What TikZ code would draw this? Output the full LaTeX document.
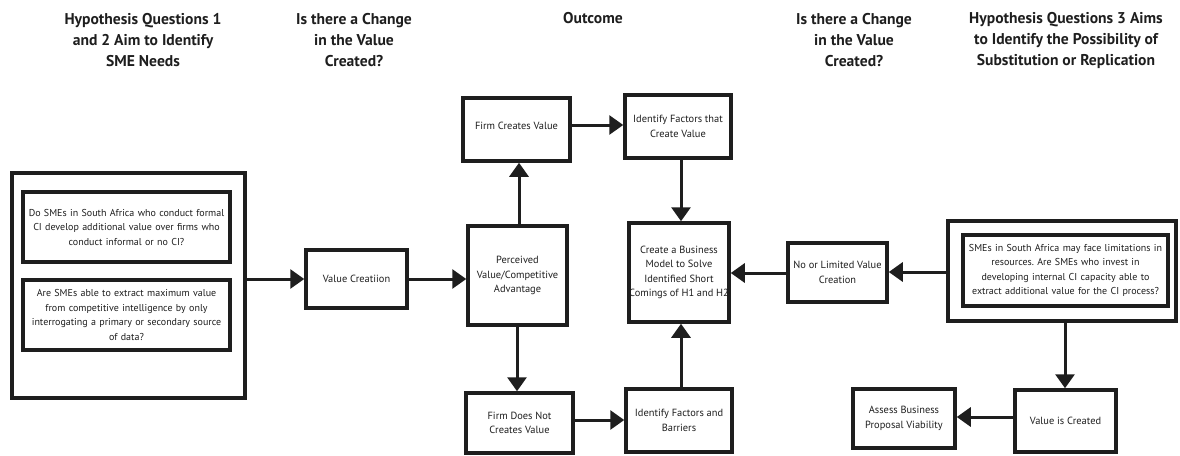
\documentclass[tikz,border=0pt]{standalone}
\usepackage{fontspec}
\setmainfont{PT Sans}
\frenchspacing
\usetikzlibrary{arrows.meta}
\definecolor{ink}{HTML}{1E1E1E}
\tikzset{
  box/.style={draw=ink, line width=3.5pt, fill=white, align=center, inner sep=1pt,
    font=\fontsize{10.4}{14.5}\selectfont, text=ink},
  qbox/.style={box, font=\fontsize{10}{14.5}\selectfont, text width=196pt,
    minimum width=207pt},
  outerbox/.style={draw=ink, line width=4pt, fill=white},
  head/.style={align=center, font=\fontsize{15.6}{21}\selectfont\bfseries, text=ink},
  flow/.style={draw=ink, line width=3pt, -{Triangle[length=14pt,width=19pt]}},
}
\begin{document}
\begin{tikzpicture}[x=1pt,y=-1pt]
\useasboundingbox (0,0) rectangle (1180,455);

% column headings
\node[head] (h1) at (143,40) {Hypothesis Questions 1\\and 2 Aim to Identify\\SME Needs};
\node[head] (h2) at (354,40) {Is there a Change\\in the Value\\Created?};
\node[head] (h3) at (593,18) {Outcome};
\node[head] (h4) at (854,40) {Is there a Change\\in the Value\\Created?};
\node[head] (h5) at (1066,40) {Hypothesis Questions 3 Aims\\to Identify the Possibility of\\Substitution or Replication};

% hypotheses 1 and 2
\node[outerbox, minimum width=233pt, minimum height=225pt, outer sep=0pt] (hq12) at (128.5,285.5) {};
\node[qbox, minimum height=70pt] (q1) at (126.5,227)
  {Do SMEs in South Africa who conduct formal\\CI develop additional value over firms who\\conduct informal or no CI?};
\node[qbox, minimum height=70pt] (q2) at (126.5,315)
  {Are SMEs able to extract maximum value\\from competitive intelligence by only\\interrogating a primary or secondary source\\of data?};

% central flow
\node[box, minimum width=101pt, minimum height=58pt] (vc) at (356.5,279) {Value Creatiion};
\node[box, minimum width=99pt, minimum height=99pt] (pv) at (517.5,275.5) {Perceived\\Value/Competitive\\Advantage};
\node[box, minimum width=107pt, minimum height=63pt] (fc) at (516.5,129.5) {\raisebox{7pt}{Firm Creates Value}};
\node[box, minimum width=106pt, minimum height=63pt] (if) at (678,126.5) {Identify Factors that\\Create Value};
\node[box, minimum width=100pt, minimum height=99pt, inner sep=0pt] (bm) at (679,272.5) {Create a Business\\Model to Solve\\Identified Short\\Comings of H1 and H2};
\node[box, minimum width=107pt, minimum height=60pt] (fn) at (519.5,423) {Firm Does Not\\Creates Value};
\node[box, minimum width=106pt, minimum height=63pt] (ib) at (679,420.5) {Identify Factors and\\Barriers};

% hypothesis 3
\node[box, minimum width=99pt, minimum height=59pt] (nl) at (837.5,272.5) {No or Limited Value\\Creation};
\node[outerbox, minimum width=228pt, minimum height=100pt, outer sep=0pt] (hq3) at (1062,271) {};
\node[qbox, minimum width=205pt, minimum height=71pt] (q3) at (1065.5,270.5)
  {SMEs in South Africa may face limitations in\\resources. Are SMEs who invest in\\developing internal CI capacity able to\\extract additional value for the CI process?};
\node[box, minimum width=101pt, minimum height=62pt] (vic) at (1065.5,421) {Value is Created};
\node[box, minimum width=102pt, minimum height=59pt] (ab) at (904,418.5) {Assess Business\\Proposal Viability};

% connectors
\draw[flow] (hq12.east |- vc.west) -- (vc.west);
\draw[flow] (vc.east) -- (vc.east -| pv.west);
\draw[flow] (pv.north -| 519,0) -- (fc.south -| 519,0);
\draw[flow] (fc.east |- 0,125) -- (if.west |- 0,125);
\draw[flow] (if.south -| 681,0) -- (bm.north -| 681,0);
\draw[flow] (pv.south -| 517,0) -- (fn.north -| 517,0);
\draw[flow] (fn.east |- 0,420) -- (ib.west |- 0,420);
\draw[flow] (ib.north -| 681,0) -- (bm.south -| 681,0);
\draw[flow] (nl.west |- 0,273) -- (bm.east |- 0,273);
\draw[flow] (hq3.west |- 0,272) -- (nl.east |- 0,272);
\draw[flow] (hq3.south -| 1065,0) -- (vic.north -| 1065,0);
\draw[flow] (vic.west |- 0,417) -- (ab.east |- 0,417);
\end{tikzpicture}
\end{document}
